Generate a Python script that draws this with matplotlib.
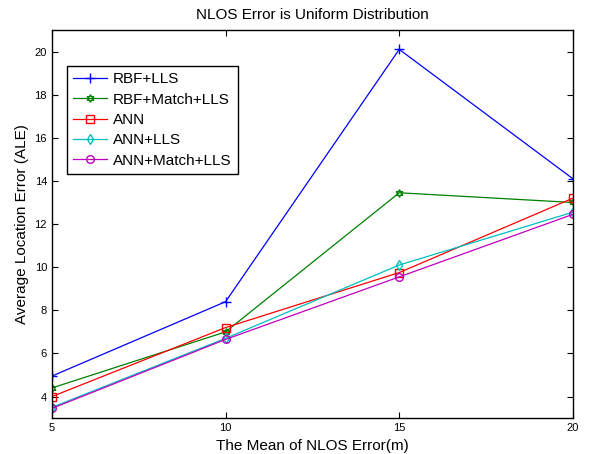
import matplotlib
matplotlib.use("Agg")
import matplotlib.pyplot as plt

plt.rcParams['font.family'] = ['Liberation Sans', 'DejaVu Sans']

x = [5, 10, 15, 20]
rbf_lls = [4.95, 8.4, 20.1, 14.1]
rbf_match_lls = [4.4, 7.0, 13.45, 13.0]
ann = [4.0, 7.2, 9.75, 13.2]
ann_lls = [3.5, 6.7, 10.1, 12.55]
ann_match_lls = [3.45, 6.65, 9.55, 12.45]

series = [
    ("RBF+LLS", rbf_lls, "#0000ff", "+"),
    ("RBF+Match+LLS", rbf_match_lls, "#007f00", (6, 1, 0)),
    ("ANN", ann, "#ff0000", "s"),
    ("ANN+LLS", ann_lls, "#00bfbf", "d"),
    ("ANN+Match+LLS", ann_match_lls, "#bf00bf", "o"),
]

fig = plt.figure(figsize=(5.9, 4.54), dpi=100)
ax = fig.add_axes([0.088, 0.079, 0.883, 0.855])

for name, vals, col, mk in series:
    ax.plot(x, vals, color=col, marker=mk, markersize=7 if mk == "+" else 5.5,
            markerfacecolor='none', markeredgecolor=col, linewidth=0.9,
            label=name)

ax.set_xlim(5, 20)
ax.set_ylim(3, 21)
ax.set_xticks([5, 10, 15, 20])
ax.set_yticks([4, 6, 8, 10, 12, 14, 16, 18, 20])
ax.tick_params(direction='in', labelsize=8, top=True, right=True, length=4)
for s in ax.spines.values():
    s.set_linewidth(1.0)

ax.set_xlabel("The Mean of NLOS Error(m)", fontsize=11)
ax.set_ylabel("Average Location Error (ALE)", fontsize=11)
ax.set_title("NLOS Error is Uniform Distribution", fontsize=11, pad=8)

leg = ax.legend(loc='upper left', bbox_to_anchor=(0.029, 0.907), fontsize=11,
                fancybox=False, framealpha=1, edgecolor='black',
                borderaxespad=0, handlelength=2.2, handletextpad=0.4,
                labelspacing=0.42, borderpad=0.4)
leg.get_frame().set_linewidth(1.0)

fig.savefig("out.png", dpi=100)
